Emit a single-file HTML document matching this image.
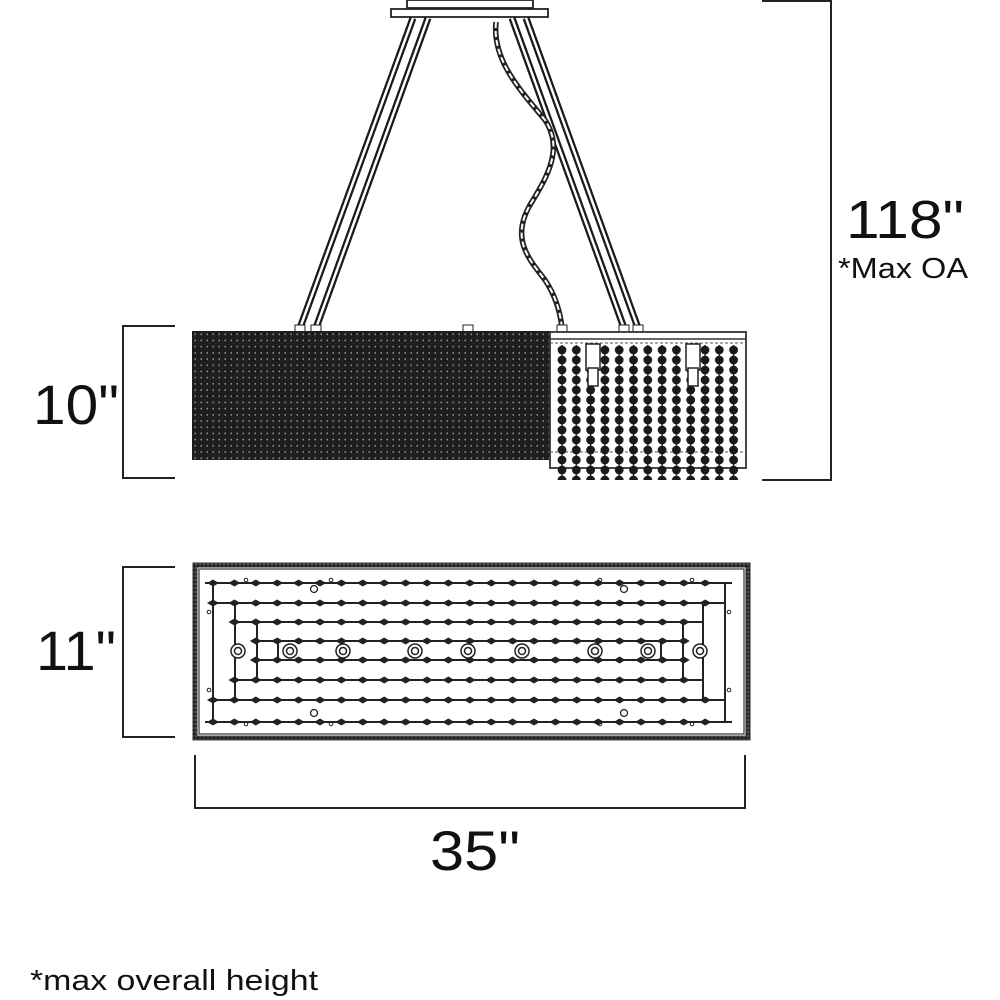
<!DOCTYPE html>
<html><head><meta charset="utf-8"><style>
html,body{margin:0;padding:0;background:#fff;width:1000px;height:1000px;overflow:hidden}
svg{display:block}
text{font-family:"Liberation Sans",sans-serif;fill:#111}
</style></head><body>
<svg id="s" width="1000" height="1000" viewBox="0 0 1000 1000" xmlns="http://www.w3.org/2000/svg">
<defs>
<pattern id="mesh" x="192" y="331" width="6" height="6.2" patternUnits="userSpaceOnUse">
<rect width="6" height="6.2" fill="#1e1e1e"/><rect x="2.5" y="2.5" width="1.5" height="1.5" fill="#999"/>
</pattern>
<pattern id="beads" x="555" y="345" width="14.3" height="10" patternUnits="userSpaceOnUse">
<circle cx="7" cy="5" r="4.4" fill="#1a1a1a"/><rect x="6.3" y="0" width="1.4" height="10" fill="#1a1a1a"/>
</pattern>
<pattern id="border" x="0" y="0" width="4" height="4" patternUnits="userSpaceOnUse">
<rect width="4" height="4" fill="#555"/><circle cx="2" cy="2" r="1.8" fill="#222"/>
</pattern>
</defs>
<rect x="407" y="0" width="126" height="8" fill="#fff" stroke="#222" stroke-width="1.8"/>
<rect x="391" y="9" width="157" height="8" fill="#fff" stroke="#222" stroke-width="1.8"/>
<g stroke-linecap="butt">
<line x1="413" y1="18" x2="300" y2="328" stroke="#1a1a1a" stroke-width="7"/>
<line x1="413" y1="18" x2="300" y2="328" stroke="#fff" stroke-width="2.5"/>
<line x1="428" y1="18" x2="316" y2="328" stroke="#1a1a1a" stroke-width="7"/>
<line x1="428" y1="18" x2="316" y2="328" stroke="#fff" stroke-width="2.5"/>
<line x1="512" y1="18" x2="624" y2="328" stroke="#1a1a1a" stroke-width="7"/>
<line x1="512" y1="18" x2="624" y2="328" stroke="#fff" stroke-width="2.5"/>
<line x1="526" y1="18" x2="638" y2="328" stroke="#1a1a1a" stroke-width="7"/>
<line x1="526" y1="18" x2="638" y2="328" stroke="#fff" stroke-width="2.5"/>
</g>
<path d="M496 22 C492 60 520 90 545 120 C565 150 545 180 530 205 C510 240 530 260 545 280 C555 295 560 310 562 328" fill="none" stroke="#222" stroke-width="5.5"/>
<path d="M496 22 C492 60 520 90 545 120 C565 150 545 180 530 205 C510 240 530 260 545 280 C555 295 560 310 562 328" fill="none" stroke="#fff" stroke-width="2" stroke-dasharray="6 3"/>
<rect x="295" y="325" width="10" height="7" fill="#fff" stroke="#222"/>
<rect x="311" y="325" width="10" height="7" fill="#fff" stroke="#222"/>
<rect x="463" y="325" width="10" height="7" fill="#fff" stroke="#222"/>
<rect x="557" y="325" width="10" height="7" fill="#fff" stroke="#222"/>
<rect x="619" y="325" width="10" height="7" fill="#fff" stroke="#222"/>
<rect x="633" y="325" width="10" height="7" fill="#fff" stroke="#222"/>
<rect x="192" y="331" width="358" height="129" fill="url(#mesh)"/>
<rect x="550" y="332" width="196" height="136" fill="none" stroke="#333" stroke-width="1.8"/>
<line x1="550" y1="339" x2="746" y2="339" stroke="#333" stroke-width="1.5"/>
<line x1="550" y1="343" x2="746" y2="343" stroke="#555" stroke-width="1" stroke-dasharray="3 2"/>
<line x1="550" y1="452" x2="746" y2="452" stroke="#555" stroke-width="1" stroke-dasharray="3 2"/>
<rect x="555" y="345" width="186" height="135" fill="url(#beads)"/>
<rect x="586" y="344" width="14" height="26" fill="#fff" stroke="#222" stroke-width="1.5"/>
<rect x="588" y="368" width="10" height="18" fill="#fff" stroke="#222" stroke-width="1.5"/>
<rect x="686" y="344" width="14" height="26" fill="#fff" stroke="#222" stroke-width="1.5"/>
<rect x="688" y="368" width="10" height="18" fill="#fff" stroke="#222" stroke-width="1.5"/>
<rect x="195" y="565" width="553" height="173" fill="none" stroke="url(#border)" stroke-width="5"/>
<rect x="199" y="569" width="545" height="165" fill="none" stroke="#333" stroke-width="1.2"/>
<g id="bv" stroke="#222" stroke-width="2" fill="none"></g>
<g stroke="#222" stroke-width="2" fill="none">
<polyline points="762,1 831,1 831,480 762,480"/>
<polyline points="175,326 123,326 123,478 175,478"/>
<polyline points="175,567 123,567 123,737 175,737"/>
<polyline points="195,755 195,808 745,808 745,755"/>
</g>
<text x="905" y="238" font-size="54" text-anchor="middle" textLength="118" lengthAdjust="spacingAndGlyphs">118"</text>
<text x="903" y="278" font-size="29" text-anchor="middle" textLength="130" lengthAdjust="spacingAndGlyphs">*Max OA</text>
<text x="76" y="424" font-size="56" text-anchor="middle" textLength="86" lengthAdjust="spacingAndGlyphs">10"</text>
<text x="76" y="670" font-size="56" text-anchor="middle" textLength="80" lengthAdjust="spacingAndGlyphs">11"</text>
<text x="475" y="870" font-size="56" text-anchor="middle" textLength="90" lengthAdjust="spacingAndGlyphs">35"</text>
<text x="30" y="990" font-size="29" textLength="288" lengthAdjust="spacingAndGlyphs">*max overall height</text>
</svg>
<script>
var g=document.getElementById('bv'),NS='http://www.w3.org/2000/svg';
function el(t,a){var e=document.createElementNS(NS,t);for(var k in a)e.setAttribute(k,a[k]);g.appendChild(e);return e;}
var rows=[[583,205,732],[603,213,725],[622,235,703],[641,257,683],[660,257,683],[680,235,703],[700,213,725],[722,205,732]];
rows.forEach(function(r){el('line',{x1:r[1],y1:r[0],x2:r[2],y2:r[0]});
for(var x=213;x<=726;x+=21.4){if(x<r[1]-2||x>r[2]+2)continue;el('path',{d:'M'+(x-6)+' '+r[0]+'L'+x+' '+(r[0]-3.5)+'L'+(x+6)+' '+r[0]+'L'+x+' '+(r[0]+3.5)+'Z',fill:'#222',stroke:'none'});}});
[[213,725,583,722],[235,703,603,700],[257,683,622,680],[278,661,641,660]].forEach(function(v){
el('line',{x1:v[0],y1:v[2],x2:v[0],y2:v[3]});el('line',{x1:v[1],y1:v[2],x2:v[1],y2:v[3]});});
[238,290,343,415,468,522,595,648,700].forEach(function(x){
el('circle',{cx:x,cy:651,r:7,fill:'#fff','stroke-width':1.5});el('circle',{cx:x,cy:651,r:3.5,'stroke-width':1.5});});
[[314,589],[624,589],[314,713],[624,713]].forEach(function(p){el('circle',{cx:p[0],cy:p[1],r:3.5,fill:'#fff','stroke-width':1.3});});
[[246,580],[331,580],[600,580],[692,580],[246,724],[331,724],[600,724],[692,724],[209,612],[209,690],[729,612],[729,690]].forEach(function(p){el('circle',{cx:p[0],cy:p[1],r:1.8,'stroke-width':1});});
</script>
</body></html>
